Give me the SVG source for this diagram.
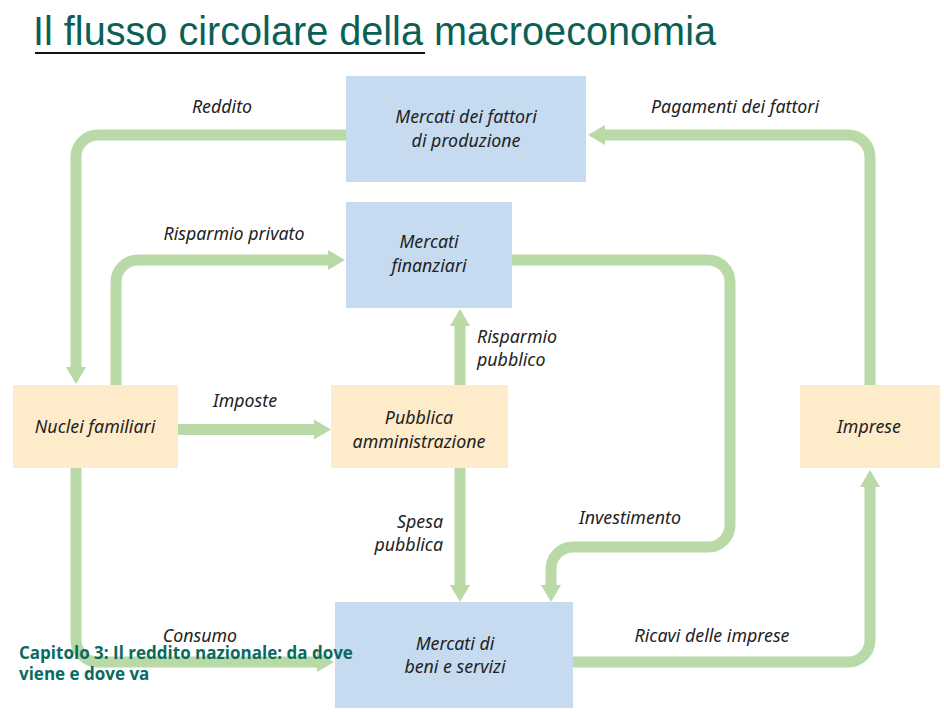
<svg xmlns="http://www.w3.org/2000/svg" width="944" height="712" viewBox="0 0 944 712">
<style>
.blue{fill:#c6dbf0}
.tan{fill:#feebc9}
.lbl{font-family:"Noto Sans","DejaVu Sans",sans-serif;font-style:italic;font-size:17.8px;fill:#222}
.c{text-anchor:middle}
.r{text-anchor:end}
.flow{fill:none;stroke:#b9d9a7;stroke-width:11}
.foot{font-family:"Open Sans","Noto Sans",sans-serif;font-weight:bold;font-size:17px;fill:#0b6a60}
</style>
<defs>
<marker id="ah" markerUnits="userSpaceOnUse" markerWidth="20" markerHeight="22" refX="1" refY="11" orient="auto" viewBox="0 0 20 22">
<path d="M0,1 L17,11 L0,21 z" fill="#b9d9a7"/>
</marker>
</defs>
<rect width="944" height="712" fill="#fff"/>
<g id="title">
<text x="33" y="45" font-family="'Liberation Sans',Arial,sans-serif" font-size="40" fill="#0b5f57" textLength="683" lengthAdjust="spacingAndGlyphs">Il flusso circolare della macroeconomia</text>
<line x1="35" y1="53" x2="425" y2="53" stroke="#111" stroke-width="2"/>
</g>
<g id="connectors">
<path class="flow" d="M346,135 H98 A22,22 0 0 0 76,157 V368" marker-end="url(#ah)"/>
<path class="flow" d="M116,385 V282 A22,22 0 0 1 138,260 H329" marker-end="url(#ah)"/>
<path class="flow" d="M870,385 V157 A22,22 0 0 0 848,135 H604" marker-end="url(#ah)"/>
<path class="flow" d="M512,260 H708 A22,22 0 0 1 730,282 V525 A22,22 0 0 1 708,547 H573 A22,22 0 0 0 551,569 V586" marker-end="url(#ah)"/>
<path class="flow" d="M573,662 H848 A22,22 0 0 0 870,640 V486" marker-end="url(#ah)"/>
<path class="flow" d="M178,429.5 H315" marker-end="url(#ah)"/>
<path class="flow" d="M460,468 V586" marker-end="url(#ah)"/>
<path class="flow" d="M460,385 V325" marker-end="url(#ah)"/>
<path class="flow" d="M76,468 V640 A22,22 0 0 0 98,662 H318" marker-end="url(#ah)"/>
<text class="lbl c" x="222" y="113">Reddito</text>
<text class="lbl c" x="735" y="113">Pagamenti dei fattori</text>
<text class="lbl c" x="234" y="240">Risparmio privato</text>
<text class="lbl" x="477" y="343">Risparmio</text>
<text class="lbl" x="477" y="366">pubblico</text>
<text class="lbl c" x="245" y="407">Imposte</text>
<text class="lbl r" x="443" y="528">Spesa</text>
<text class="lbl r" x="443" y="551">pubblica</text>
<text class="lbl c" x="630" y="524">Investimento</text>
<text class="lbl c" x="200" y="642">Consumo</text>
<text class="lbl c" x="712" y="642">Ricavi delle imprese</text>
</g>
<g id="mercati-fattori">
<rect class="blue" x="346" y="76" width="240" height="106"/>
<text class="lbl c" x="466" y="123">Mercati dei fattori</text>
<text class="lbl c" x="466" y="147">di produzione</text>
</g>
<g id="mercati-finanziari">
<rect class="blue" x="346" y="202" width="166" height="106"/>
<text class="lbl c" x="429" y="248">Mercati</text>
<text class="lbl c" x="429" y="272">finanziari</text>
</g>
<g id="nuclei-familiari">
<rect class="tan" x="13" y="385" width="165" height="83"/>
<text class="lbl c" x="95" y="433">Nuclei familiari</text>
</g>
<g id="pubblica-amministrazione">
<rect class="tan" x="331" y="385" width="177" height="83"/>
<text class="lbl c" x="419" y="424">Pubblica</text>
<text class="lbl c" x="419" y="448">amministrazione</text>
</g>
<g id="imprese">
<rect class="tan" x="800" y="385" width="140" height="83"/>
<text class="lbl c" x="869" y="433">Imprese</text>
</g>
<g id="mercati-beni">
<rect class="blue" x="335" y="602" width="238" height="106"/>
<text class="lbl c" x="455" y="650">Mercati di</text>
<text class="lbl c" x="455" y="673">beni e servizi</text>
</g>
<g id="footer">
<text class="foot" x="19" y="659">Capitolo 3: Il reddito nazionale: da dove</text>
<text class="foot" x="19" y="680">viene e dove va</text>
</g>
</svg>
